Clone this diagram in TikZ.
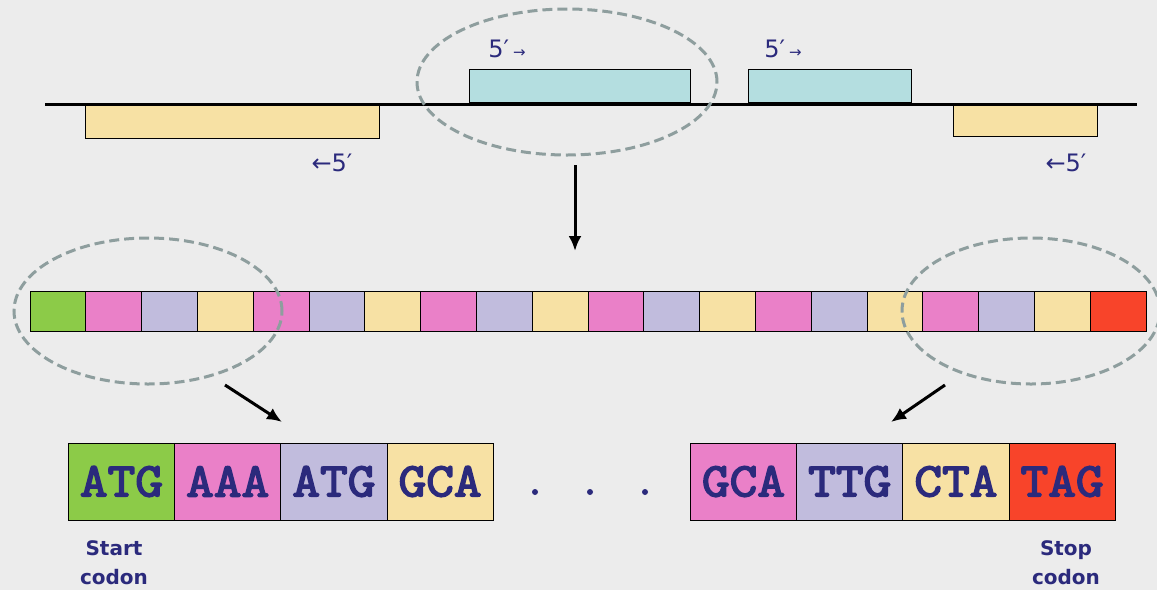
\documentclass[tikz,border=0pt]{standalone}
\usepackage{fontspec}
\setmainfont{DejaVu Sans}
\newfontfamily\codonfont[FakeBold=3.5,FakeStretch=1.12]{Latin Modern Mono}
\usetikzlibrary{shapes.geometric,arrows.meta}

\definecolor{bgcol}{HTML}{ECECEC}
\definecolor{cgreen}{HTML}{8CCB48}
\definecolor{cpink}{HTML}{EA80C8}
\definecolor{clav}{HTML}{C1BCDD}
\definecolor{cyel}{HTML}{F7E1A4}
\definecolor{cred}{HTML}{F8442A}
\definecolor{cblue}{HTML}{B4DEE0}
\definecolor{txtblue}{HTML}{2B2A7C}
\definecolor{ringcol}{HTML}{8E9E9E}

\tikzset{
  cell/.style={draw=black, line width=1pt, minimum width=55.8pt,
    minimum height=40pt, inner sep=0pt, outer sep=0pt},
  codon/.style={cell, minimum width=106.2pt, minimum height=77pt,
    text=txtblue, font=\codonfont\fontsize{48}{48}\selectfont},
  gene/.style={draw=black, line width=0.8pt, inner sep=0pt, anchor=north west,
    minimum height=33pt},
  ring/.style={ellipse, draw=ringcol, line width=3pt,
    dash pattern=on 10pt off 5pt, inner sep=0pt},
  lbl/.style={text=txtblue, font=\fontsize{24}{24}\selectfont},
  arr/.style={-{Latex[length=15pt,width=13pt]}, line width=3pt},
}

\begin{document}
\begin{tikzpicture}[x=1pt,y=-1pt]
  \fill[bgcol] (0,0) rectangle (1157,590);
  \useasboundingbox (0,0) rectangle (1157,590);

  % strand with genes on both sides
  \coordinate (dl) at (45,104);
  \coordinate (dr) at (1137,104);
  \draw[line width=3pt] (dl) -- (dr);
  \node[gene, fill=cyel, minimum width=294pt, anchor=north west] (g1) at (85,105) {};
  \node[gene, fill=cblue, minimum width=221pt, anchor=south west] (g2) at (469,103) {};
  \node[gene, fill=cblue, minimum width=163pt, anchor=south west] (g3) at (748,103) {};
  \node[gene, fill=cyel, minimum width=144pt, minimum height=31pt] (g4) at (953,105) {};
  \node[lbl] (p2) at (507,49) {5′\,{\fontsize{15}{15}\selectfont→}};
  \node[lbl] (p3) at (783,49) {5′\,{\fontsize{15}{15}\selectfont→}};
  \node[lbl] (p1) at (332,163) {←5′};
  \node[lbl] (p4) at (1066,163) {←5′};
  \node[ring, minimum width=300pt, minimum height=146pt] (top) at (567,82) {};

  \coordinate (ta) at (575,165);
  \coordinate (tb) at (575,251);
  \draw[arr] (ta) -- (tb);

  % the whole reading frame
  \foreach \c [count=\i from 0] in {cgreen,cpink,clav,cyel,cpink,clav,cyel,
    cpink,clav,cyel,cpink,clav,cyel,cpink,clav,cyel,cpink,clav,cyel,cred}{
    \node[cell, fill=\c] (s\i) at ({57.9+55.8*\i},311) {};
  }
  \node[ring, minimum width=268pt, minimum height=146pt] (lft) at (148,311) {};
  \node[ring, minimum width=258pt, minimum height=146pt] (rgt) at (1031,311) {};

  \coordinate (la) at (225,385);
  \coordinate (lb) at (282,422);
  \draw[arr] (la) -- (lb);
  \coordinate (ra) at (945,385);
  \coordinate (rb) at (891,422);
  \draw[arr] (ra) -- (rb);

  % codons at both ends
  \node[codon, fill=cgreen] (c1) at (121.5,481.5) {ATG};
  \node[codon, fill=cpink] (c2) at (227.7,481.5) {AAA};
  \node[codon, fill=clav] (c3) at (333.9,481.5) {ATG};
  \node[codon, fill=cyel] (c4) at (440.1,481.5) {GCA};
  \node[codon, fill=cpink] (c5) at (743.5,481.5) {GCA};
  \node[codon, fill=clav] (c6) at (849.7,481.5) {TTG};
  \node[codon, fill=cyel] (c7) at (955.9,481.5) {CTA};
  \node[codon, fill=cred] (c8) at (1062.1,481.5) {TAG};
  \foreach \x in {535,590,645}
    \fill[txtblue] (\x,492) circle (3pt);

  \node[lbl, align=center, font=\bfseries\fontsize{20}{29}\selectfont] (start) at (114,563) {Start\\codon};
  \node[lbl, align=center, font=\bfseries\fontsize{20}{29}\selectfont] (stop) at (1066,563) {Stop\\codon};
\end{tikzpicture}
\end{document}
